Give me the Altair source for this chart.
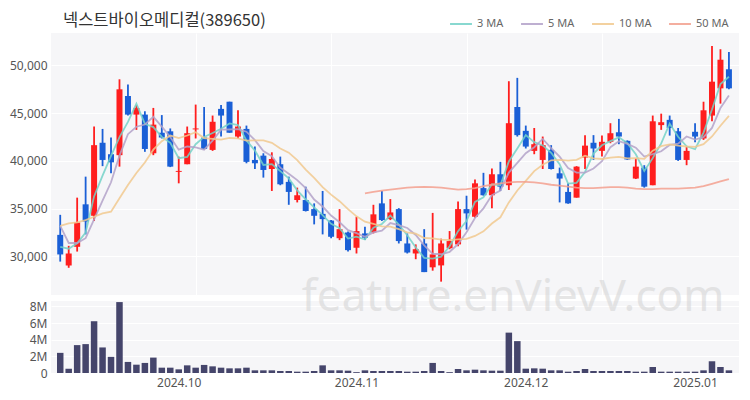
import altair as alt
import pandas as pd

title_text = "넥스트바이오메디컬(389650)"
watermark = "feature.enVievV.com"

opens = [32250, 29050, 31000, 35450, 34250, 41900, 40700, 40600, 46800, 44850,
         44850, 40800, 42950, 43100, 38850, 39650, 43300, 42450, 41150, 45450,
         46200, 42550, 43350, 40100, 40550, 39150, 39650, 37800, 35900, 35900,
         34950, 34450, 33750, 31900, 32500, 30900, 32400, 32500, 35550, 33900,
         34950, 31350, 30300, 31350, 28850, 29050, 30850, 31250, 34950, 34150,
         37150, 36400, 38600, 37450, 45650, 43150, 41050, 40100, 41150, 38700,
         36750, 36150, 40350, 41900, 41050, 42000, 43000, 42100, 38150, 39300,
         37450, 43750, 44300, 43100, 40100, 43050, 42350, 44750, 47600, 49600]
highs = [34350, 31100, 36150, 38350, 43600, 43350, 42450, 48550, 48000, 45850,
         45200, 45550, 44800, 43400, 40450, 43600, 45900, 45650, 44750, 45850,
         46200, 45300, 43700, 41500, 40800, 40900, 40450, 38350, 37200, 37300,
         35550, 36850, 33800, 34950, 32600, 34150, 33100, 35400, 36850, 36000,
         35050, 32400, 31250, 32850, 34550, 31850, 32650, 35750, 36350, 38050,
         38750, 39200, 39900, 48350, 48700, 43700, 43450, 42550, 41650, 39300,
         37650, 39450, 42700, 42700, 42650, 43950, 44400, 42150, 40250, 39550,
         44750, 44950, 44750, 43450, 41500, 43950, 46200, 52050, 51700, 51400]
lows = [29450, 28800, 30500, 32300, 33700, 39450, 38700, 39400, 44750, 43250,
        40950, 40600, 42350, 39350, 37650, 39650, 42350, 41200, 41050, 42550,
        42950, 42350, 39750, 39150, 38250, 36850, 37450, 35400, 35650, 34700,
        33350, 32300, 31900, 31700, 30500, 30300, 31700, 32400, 33700, 33800,
        31350, 30300, 29700, 28350, 28500, 27350, 30750, 31050, 32800, 34050,
        36350, 35050, 36850, 36950, 42550, 41300, 40700, 39150, 39100, 35650,
        35500, 36150, 39150, 40100, 40450, 41850, 41750, 40100, 38100, 37200,
        37450, 43250, 42650, 40000, 39550, 41950, 42200, 44150, 46000, 47500]
closes = [30200, 30300, 33550, 33650, 41650, 40100, 39850, 47500, 44850, 45550,
          41250, 43800, 42450, 39400, 38950, 42900, 43400, 41250, 44100, 44750,
          42950, 43600, 39900, 39750, 39050, 40200, 37550, 36750, 36400, 34750,
          34250, 33900, 32050, 32850, 30650, 32650, 31950, 34400, 33800, 34600,
          31600, 30400, 30750, 28350, 30200, 31350, 31600, 34950, 34500, 37650,
          36400, 38600, 37300, 43950, 42700, 41500, 41750, 41650, 39150, 38150,
          35550, 39400, 41600, 41300, 42000, 42900, 42550, 40150, 39400, 37300,
          44150, 44050, 43450, 40100, 41050, 42550, 45300, 48300, 50600, 47600]
volumes = [2420000, 520000, 3350000, 3470000, 6220000, 3070000, 1940000, 8520000, 1330000, 1000000,
           1210000, 1850000, 640000, 640000, 440000, 920000, 640000, 970000, 800000, 640000,
           560000, 560000, 640000, 320000, 320000, 320000, 240000, 240000, 160000, 160000,
           240000, 920000, 320000, 320000, 280000, 100000, 320000, 240000, 240000, 240000,
           240000, 160000, 160000, 240000, 1210000, 240000, 100000, 480000, 320000, 400000,
           320000, 280000, 280000, 4850000, 3830000, 520000, 560000, 520000, 320000, 320000,
           160000, 240000, 480000, 240000, 240000, 240000, 240000, 240000, 160000, 160000,
           720000, 160000, 160000, 160000, 160000, 160000, 320000, 1410000, 720000, 320000]
ma3 = [31000, 30800, 31360, 32500, 36280, 38460, 40530, 42490, 44080, 45990,
       43890, 43540, 42510, 41890, 40280, 40410, 41750, 42510, 42920, 43360,
       43930, 43750, 42150, 41080, 39570, 39660, 38930, 38170, 36910, 35980,
       35140, 34310, 33410, 32950, 31860, 32060, 31760, 33000, 33390, 34270,
       33340, 32210, 30930, 29840, 29770, 29970, 31060, 32640, 33690, 35700,
       36190, 37550, 37440, 39940, 41310, 42710, 41970, 41620, 40850, 39660,
       37620, 37700, 38840, 40760, 41640, 42070, 42470, 41860, 40690, 38950,
       40290, 41830, 43890, 42530, 41530, 41220, 42960, 45380, 48060, 48810]
ma5 = [33200, 31400, 31400, 31900, 33880, 35850, 37760, 40550, 42800, 43580,
       43810, 44610, 43590, 42500, 41180, 41510, 41420, 41180, 42120, 43270,
       43290, 43320, 43060, 42180, 41040, 40490, 39290, 38660, 37990, 37140,
       35950, 35220, 34280, 33570, 32750, 32430, 32040, 32510, 32700, 33490,
       33280, 32970, 32240, 31150, 30270, 30220, 30460, 31290, 32530, 34020,
       35030, 36420, 36890, 38780, 39790, 40800, 41430, 42300, 41350, 40440,
       39250, 38780, 38770, 39200, 39970, 41440, 42060, 41780, 41390, 40450,
       40710, 41010, 41670, 41810, 42560, 42230, 42490, 43450, 45550, 46860]
ma10 = [33200, 33450, 33550, 33800, 34150, 34500, 34680, 36080, 37470, 38730,
        39830, 41180, 42070, 42650, 42380, 42660, 43010, 42390, 42310, 42220,
        42400, 42370, 42120, 42150, 42160, 41890, 41300, 40860, 40090, 39090,
        38220, 37260, 36470, 35780, 34940, 34190, 33630, 33400, 33130, 33120,
        32850, 32510, 32380, 31920, 31880, 31750, 31710, 31770, 31840, 32140,
        32620, 33440, 34090, 35650, 36900, 37910, 38930, 39600, 40060, 40110,
        40030, 40110, 40540, 40270, 40200, 40340, 40420, 40270, 40300, 40210,
        41070, 41540, 41730, 41600, 41510, 41470, 41750, 42560, 43680, 44710]
ma50 = [None] * 36 + [
        36600, 36750, 36880, 37000, 37100, 37190, 37250, 37280, 37250, 37200,
        37100, 37000, 37050, 37150, 37350, 37500, 37650, 37750, 37800, 37800,
        37750, 37650, 37500, 37400, 37300, 37200, 37150, 37150, 37200, 37250,
        37250, 37200, 37100, 37050, 37050, 37100, 37100, 37100, 37150, 37200,
        37350, 37600, 37850, 38100]

tick_idx = [14, 35, 55, 75]
tick_text = ["2024.10", "2024.11", "2024.12", "2025.01"]
grid_idx = [16, 32, 48, 64]
price_ticks = [30000, 35000, 40000, 45000, 50000]
volume_ticks = [0, 2000000, 4000000, 6000000, 8000000]
ma_names = ["3 MA", "5 MA", "10 MA", "50 MA"]
ma_colors = ["#74d2c8", "#b3a2c9", "#f1c98f", "#f3a08f"]
up_color = "#ff1e1e"
down_color = "#1a5fd6"
vol_color = "#45456b"

n = len(closes)
df = pd.DataFrame({
    "i": list(range(n)),
    "open": opens, "high": highs, "low": lows, "close": closes,
    "volume": volumes,
    "3 MA": ma3, "5 MA": ma5, "10 MA": ma10, "50 MA": ma50,
})
df["dir"] = ["up" if c >= o else "down" for o, c in zip(opens, closes)]

FONT = "Noto Sans"
x_scale = alt.Scale(domain=[-0.5, 79.6], nice=False, zero=False)
price_scale = alt.Scale(domain=[25950, 53400], nice=False, zero=False)
dir_color = alt.Color("dir:N", scale=alt.Scale(domain=["up", "down"], range=[up_color, down_color]), legend=None)

base = alt.Chart(df)
x_price = alt.X("i:Q", scale=x_scale,
                axis=alt.Axis(values=grid_idx, labels=False, ticks=False, domain=False,
                              grid=True, gridColor="#ffffff", gridWidth=1, title=None))
y_axis = alt.Axis(values=price_ticks, format=",d", title=None, ticks=False, domain=False,
                  grid=True, gridColor="#ffffff", gridWidth=1, labelPadding=4,
                  labelFont=FONT, labelFontSize=12, labelColor="#555555")

wicks = base.mark_rule(strokeWidth=1.8).encode(
    x=x_price,
    y=alt.Y("low:Q", scale=price_scale, axis=y_axis),
    y2="high:Q",
    color=dir_color,
)
bodies = base.mark_bar(size=6).encode(
    x=alt.X("i:Q", scale=x_scale),
    y=alt.Y("open:Q", scale=price_scale),
    y2="close:Q",
    color=dir_color,
)
lines = base.transform_fold(ma_names, as_=["ma", "value"]).transform_filter(
    "isValid(datum.value)"
).mark_line(strokeWidth=1.8, opacity=0.85).encode(
    x=alt.X("i:Q", scale=x_scale),
    y=alt.Y("value:Q", scale=price_scale),
    color=alt.Color("ma:N", scale=alt.Scale(domain=ma_names, range=ma_colors),
                    legend=alt.Legend(orient="none", legendX=398, legendY=-21,
                                      direction="horizontal", title=None,
                                      symbolType="stroke", symbolSize=480,
                                      symbolStrokeWidth=2, labelFontSize=11,
                                      labelFont=FONT, labelColor="#666666",
                                      columnPadding=13, labelOffset=4)),
    detail="ma:N",
)
title_mark = alt.Chart(pd.DataFrame({"t": [title_text]})).mark_text(
    align="left", baseline="middle", fontSize=16.5, font="Noto Sans CJK KR", color="#333333"
).encode(text="t:N", x=alt.value(12), y=alt.value(-12))

price = alt.layer(wicks, bodies, lines, title_mark).resolve_scale(color="independent").properties(
    width=688, height=262)

label_expr = " : ".join(f"datum.value == {v} ? '{t}'" for v, t in zip(tick_idx, tick_text)) + " : ''"
vol_label_expr = "datum.value == 0 ? '0' : format(datum.value / 1000000, 'd') + 'M'"

vol_bars = base.mark_bar(size=6.5, color=vol_color).encode(
    x=alt.X("i:Q", scale=x_scale,
            axis=alt.Axis(values=tick_idx, labelExpr=label_expr, ticks=False, domain=False,
                          grid=False, title=None, labelPadding=4, labelFont=FONT,
                          labelFontSize=12, labelColor="#555555")),
    y=alt.Y("volume:Q", scale=alt.Scale(domain=[0, 8650000], nice=False),
            axis=alt.Axis(values=volume_ticks, labelExpr=vol_label_expr, title=None, ticks=False,
                          domain=False, grid=True, gridColor="#ffffff", labelPadding=4,
                          labelFont=FONT, labelFontSize=12, labelColor="#555555")),
)
wm = alt.Chart(pd.DataFrame({"t": [watermark]})).mark_text(
    align="center", baseline="middle", fontSize=44, font=FONT, color="#d2d2d2", opacity=0.55
).encode(text="t:N", x=alt.value(462), y=alt.value(-3))

volume = alt.layer(vol_bars, wm).properties(width=688, height=72)

chart = alt.vconcat(price, volume, spacing=6, bounds="flush").properties(
    padding={"left": 1, "right": 0, "top": 4, "bottom": 2},
    background="#ffffff",
).configure_view(stroke=None, fill="#f6f6f8")

chart.save("out.html", embed_options={"renderer": "svg", "actions": False})
